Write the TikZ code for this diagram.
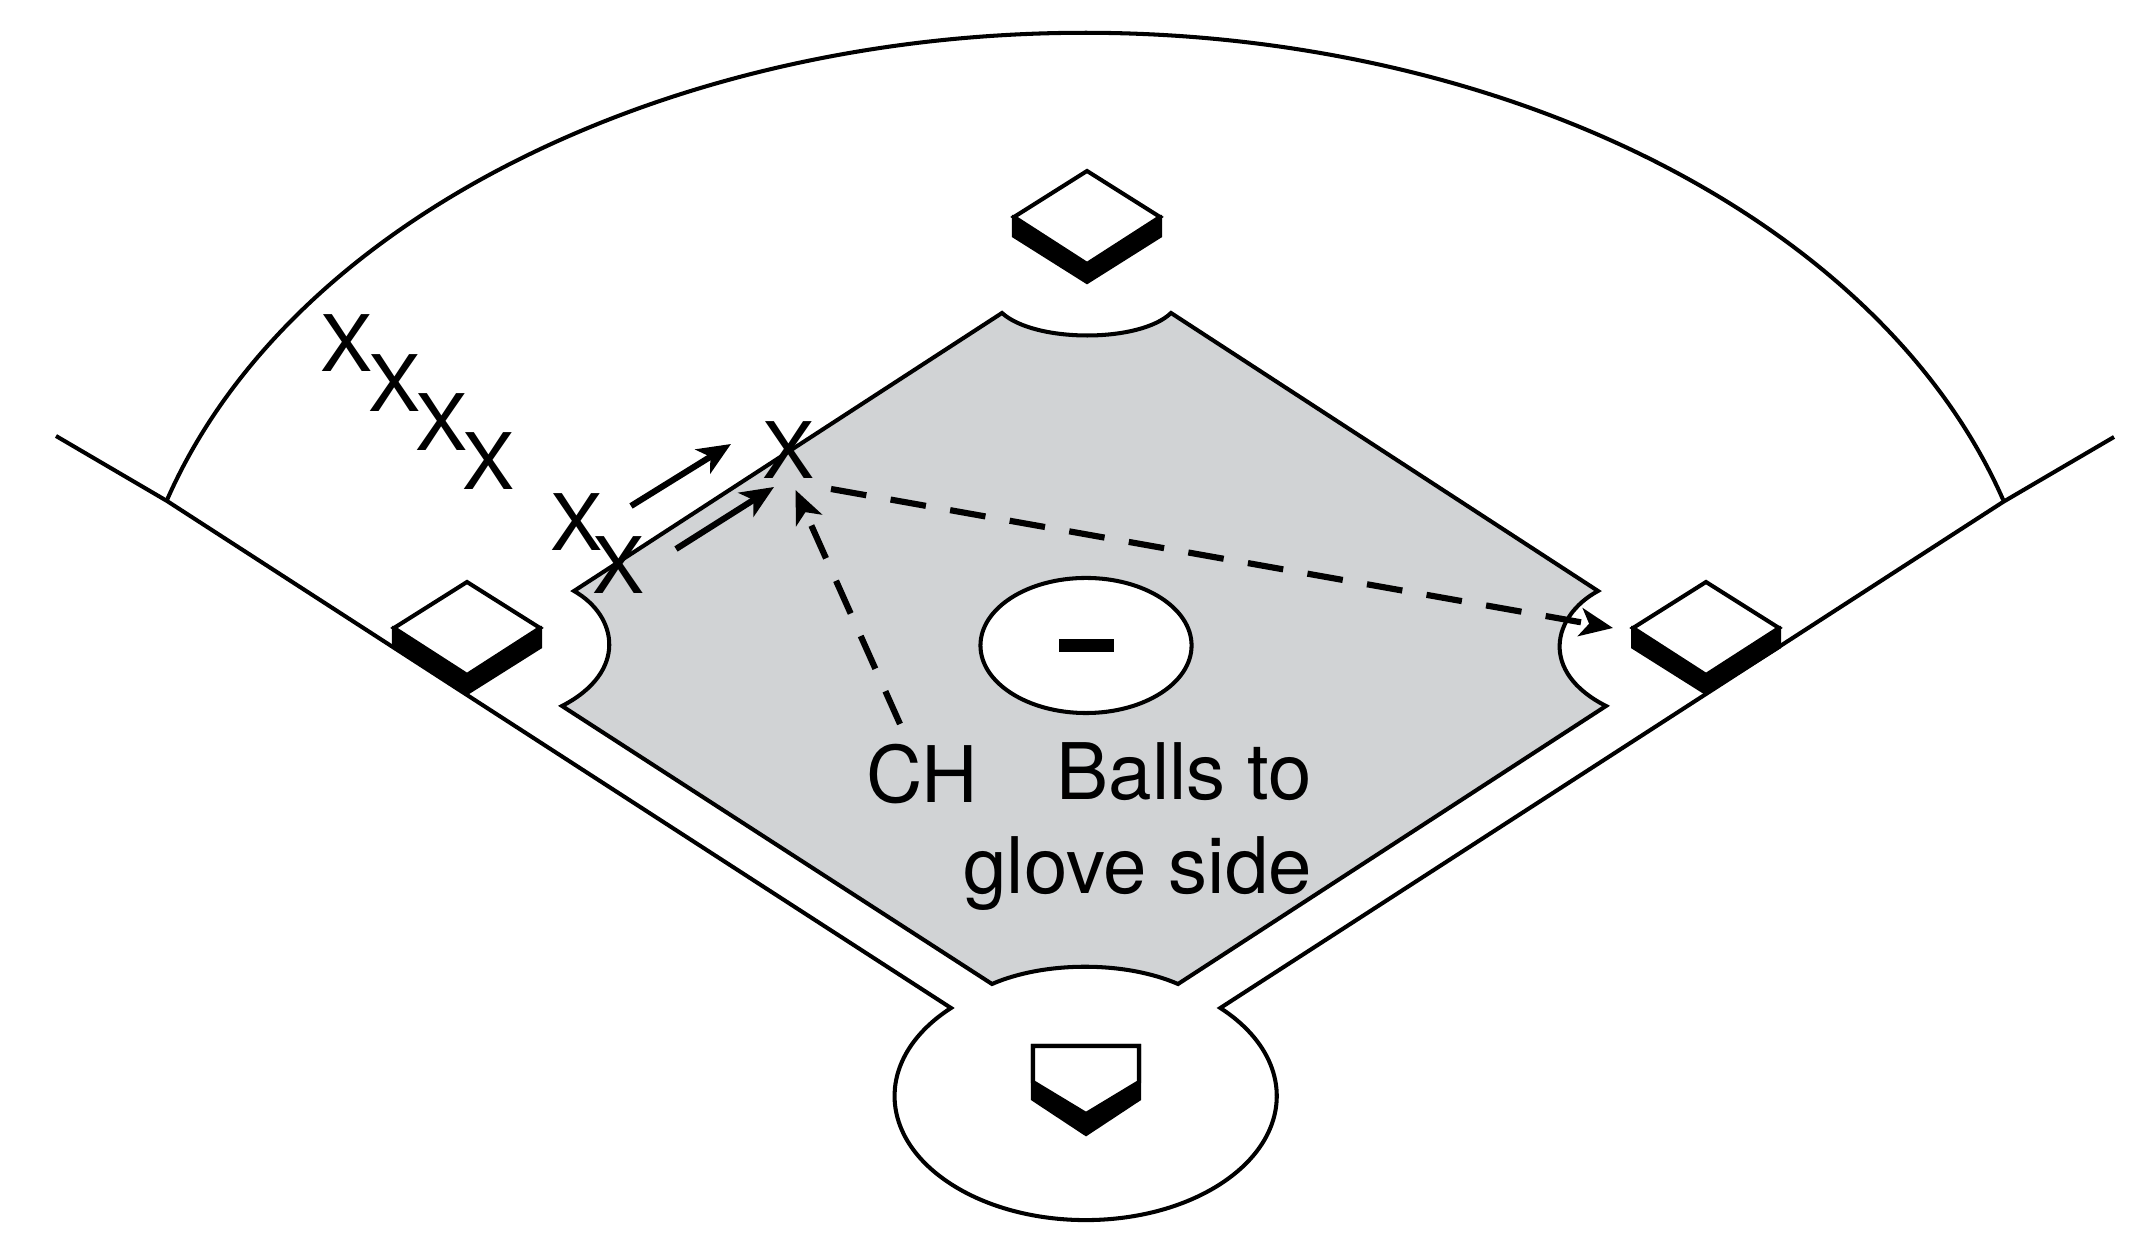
\documentclass[tikz,border=0pt]{standalone}
\usepackage{fontspec}
\setmainfont{TeX Gyre Heros}
\usepackage{tikz}
\usetikzlibrary{shapes.geometric, arrows.meta, positioning}
\definecolor{infieldgray}{HTML}{D1D3D5}
\tikzstyle{field} = [line width=1.15pt, draw=black]
\tikzstyle{player} = [inner sep=0pt, font=\fontsize{22.2pt}{27pt}\selectfont]
\tikzstyle{label} = [inner sep=0pt, align=right, font=\fontsize{22.2pt}{27pt}\selectfont]
\tikzstyle{arrow} = [line width=1.75pt, -{Stealth[length=9.4pt, width=8pt, inset=2.5pt]}]
\tikzstyle{throw} = [arrow, dash pattern=on 10.2pt off 7pt]
\tikzset{bag/.pic={
    \draw [field, fill=black] (-73,0) -- (-73,-19) -- (0,-65) -- (73,-19) -- (73,0) -- cycle;
    \draw [field, fill=white] (-73,0) -- (0,46) -- (73,0) -- (0,-47) -- cycle;
}}

\begin{document}
\begin{tikzpicture}[x=0.01cm, y=0.01cm]
        \useasboundingbox (0,0) rectangle (2131,1234);

        \draw [field] (167,734) arc [start angle=163.3, end angle=16.7, x radius=9.58cm, y radius=6.55cm];
        \draw [field] (56,798) -- (167,733) -- (951,226) arc [start angle=134.8, end angle=405.2, x radius=1.91cm, y radius=1.24cm] -- (2003,732) -- (2114,797);

        \draw [field, fill=infieldgray] (1002,921) .. controls (1035,891) and (1140,891) .. (1171,921)
            -- (1598,643) .. controls (1552,618) and (1539,562) .. (1606,528)
            -- (1178,250) .. controls (1125,273) and (1045,273) .. (992,250)
            -- (562,528) .. controls (628,562) and (618,618) .. (574,643) -- cycle;

        \node (mound) [ellipse, field, fill=white, minimum width=2.11cm, minimum height=1.35cm, inner sep=0pt] at (1086,588.5) {};
        \node (rubber) [fill=black, minimum width=0.55cm, minimum height=0.13cm, inner sep=0pt] at (mound.center) {};

        \pic at (467,606) {bag};
        \pic at (1087,1017) {bag};
        \pic at (1706,606) {bag};

        \draw [field, fill=black] (1033,188) -- (1139,188) -- (1139,135) -- (1086,100) -- (1033,135) -- cycle;
        \draw [field, fill=white] (1033,188) -- (1139,188) -- (1139,152) -- (1086,120) -- (1033,152) -- cycle;

        \node (xa) [player] at (347,891) {X};
        \node (xb) [player] at (395,851) {X};
        \node (xc) [player] at (441.5,812) {X};
        \node (xd) [player] at (489,773) {X};
        \node (xe) [player] at (577,712) {X};
        \node (xf) [player] at (619,669) {X};
        \node (xg) [player] at (789,784) {X};

        \node (ch) [label, anchor=base] at (922,431) {CH};
        \node (balls) [label, anchor=base east] at (1312.5,340) {Balls to\\glove side};

        \coordinate (runastart) at (631,728);
        \coordinate (runaend) at (731,790);
        \coordinate (runbstart) at (676,685);
        \coordinate (runbend) at (774,747);
        \coordinate (chstart) at (900,510);
        \coordinate (chend) at (795.5,744);
        \coordinate (cutstart) at (831,745);
        \coordinate (cutend) at (1613,606);

        \draw [arrow] (runastart) -- (runaend);
        \draw [arrow] (runbstart) -- (runbend);
        \draw [throw] (chstart) -- (chend);
        \draw [throw] (cutstart) -- (cutend);

        \end{tikzpicture}
\end{document}
